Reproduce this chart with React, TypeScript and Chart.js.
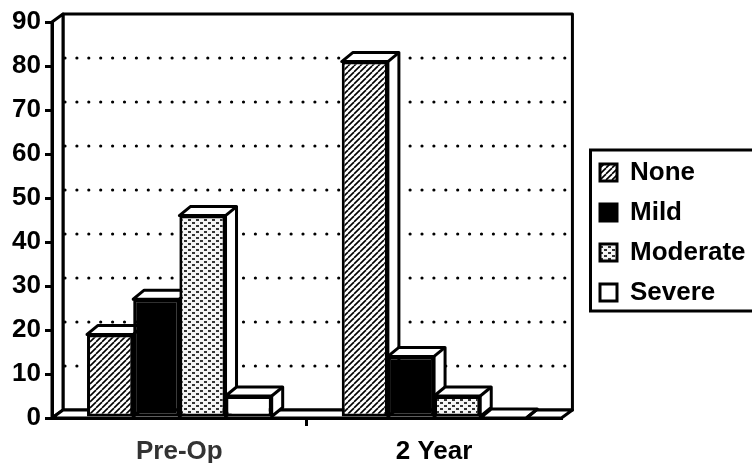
import React, { useEffect, useRef } from "react";
import { Chart, registerables } from "chart.js";

Chart.register(...registerables);

const categories = ["Pre-Op", "2 Year"];
const noneValues = [19, 81];
const mildValues = [27, 14];
const moderateValues = [46, 5];
const severeValues = [5, 0];
const FONT = '"Liberation Sans", Arial, sans-serif';

function hatch(): CanvasPattern {
  const c = document.createElement("canvas");
  c.width = 6;
  c.height = 6;
  const x = c.getContext("2d")!;
  x.fillStyle = "#fff";
  x.fillRect(0, 0, 6, 6);
  x.strokeStyle = "#000";
  x.lineWidth = 1.6;
  for (const o of [-6, 0, 6]) {
    x.beginPath();
    x.moveTo(o, 6);
    x.lineTo(o + 6, 0);
    x.stroke();
  }
  return x.createPattern(c, "repeat")!;
}

function dots(): CanvasPattern {
  const c = document.createElement("canvas");
  c.width = 8;
  c.height = 6;
  const x = c.getContext("2d")!;
  x.fillStyle = "#f4f4f4";
  x.fillRect(0, 0, 8, 6);
  x.fillStyle = "#333";
  x.fillRect(0, 0, 3, 2);
  x.fillRect(4, 3, 3, 2);
  return x.createPattern(c, "repeat")!;
}

const DX = 11;
const DY = 8;

const threeD = {
  id: "threeD",
  beforeDraw(chart: any) {
    const { ctx, chartArea: a, scales } = chart;
    ctx.save();
    ctx.strokeStyle = "#000";
    ctx.fillStyle = "#fff";
    ctx.lineWidth = 3;
    ctx.lineJoin = "round";
    const poly = (pts: number[][]) => {
      ctx.beginPath();
      pts.forEach((p, i) => (i ? ctx.lineTo(p[0], p[1]) : ctx.moveTo(p[0], p[1])));
      ctx.closePath();
      ctx.fill();
      ctx.stroke();
    };
    poly([
      [a.left + DX, a.top - DY],
      [a.right + DX, a.top - DY],
      [a.right + DX, a.bottom - DY],
      [a.left + DX, a.bottom - DY],
    ]);
    poly([
      [a.left, a.top],
      [a.left + DX, a.top - DY],
      [a.left + DX, a.bottom - DY],
      [a.left, a.bottom],
    ]);
    poly([
      [a.left, a.bottom],
      [a.left + DX, a.bottom - DY],
      [a.right + DX, a.bottom - DY],
      [a.right, a.bottom],
    ]);
    ctx.lineWidth = 3.2;
    ctx.lineCap = "round";
    ctx.setLineDash([0, 11.9]);
    scales.y.ticks.forEach((t: any) => {
      if (t.value === 0 || t.value === 90) return;
      const y = scales.y.getPixelForValue(t.value) - DY;
      ctx.beginPath();
      ctx.moveTo(a.left + DX + 2, y);
      ctx.lineTo(a.right + DX - 3, y);
      ctx.stroke();
    });
    ctx.restore();
  },
  beforeDatasetDraw() {
    return false;
  },
  afterDatasetsDraw(chart: any) {
    const { ctx } = chart;
    const dx = 11;
    const dy = 9;
    chart.data.datasets.forEach((_: any, i: number) => {
      chart.getDatasetMeta(i).data.forEach((bar: any) => {
        const p = bar.getProps(["x", "y", "base", "width"], true);
        const l = p.x - p.width / 2;
        const r = p.x + p.width / 2;
        ctx.save();
        ctx.strokeStyle = "#000";
        ctx.fillStyle = "#fff";
        ctx.lineWidth = 3;
        ctx.lineJoin = "round";
        ctx.beginPath();
        ctx.moveTo(l, p.y);
        ctx.lineTo(l + dx, p.y - dy);
        ctx.lineTo(r + dx, p.y - dy);
        ctx.lineTo(r + dx, p.base - dy);
        ctx.lineTo(r, p.base);
        ctx.lineTo(r, p.y);
        ctx.closePath();
        ctx.fill();
        ctx.stroke();
        ctx.beginPath();
        ctx.moveTo(r, p.y);
        ctx.lineTo(r + dx, p.y - dy);
        ctx.stroke();
        ctx.restore();
        bar.draw(ctx);
      });
    });
  },
  afterLayout(chart: any) {
    const lg = chart.legend;
    const w = lg.width;
    lg.left = 586;
    lg.right = 586 + w;
    lg.top -= 10;
    lg.bottom -= 10;
  },
  afterDraw(chart: any) {
    const { ctx } = chart;
    ctx.save();
    ctx.strokeStyle = "#000";
    ctx.lineWidth = 3;
    ctx.strokeRect(590.5, 150, 175, 161);
    ctx.restore();
  },
};

export default function App() {
  const ref = useRef<HTMLCanvasElement>(null);
  useEffect(() => {
    const style = { borderColor: "#000", borderWidth: 3, borderSkipped: false };
    const chart = new Chart(ref.current!, {
      type: "bar",
      data: {
        labels: categories,
        datasets: [
          { label: "None", data: noneValues, backgroundColor: hatch(), ...style },
          { label: "Mild", data: mildValues, backgroundColor: "#000", ...style },
          { label: "Moderate", data: moderateValues, backgroundColor: dots(), ...style },
          { label: "Severe", data: severeValues, backgroundColor: "#fff", ...style },
        ],
      } as any,
      options: {
        responsive: false,
        animation: false,
        events: [],
        layout: { padding: { top: 22, right: 21, left: 0, bottom: 0 } },
        datasets: { bar: { categoryPercentage: 0.725, barPercentage: 1 } },
        plugins: {
          tooltip: { enabled: false },
          legend: {
            position: "right",
            labels: {
              color: "#000",
              boxWidth: 17,
              boxHeight: 17,
              padding: 14,
              font: { family: FONT, size: 26, weight: "bold" },
            },
          },
        },
        scales: {
          x: {
            afterFit(s: any) {
              s.height = 45;
              s.paddingLeft = 0;
              s.paddingRight = 0;
            },
            border: { color: "#000", width: 3 },
            grid: {
              drawOnChartArea: false,
              tickLength: 8,
              lineWidth: 3,
              color: (c: any) => (c.index === 1 ? "#000" : "rgba(0,0,0,0)"),
            },
            ticks: {
              padding: 10,
              maxRotation: 0,
              color: (c: any) => (c.index === 0 ? "#333" : "#000"),
              font: { family: FONT, size: 26, weight: "bold" },
            },
          },
          y: {
            min: 0,
            max: 90,
            afterFit(s: any) {
              s.width = 52;
              s.paddingTop = 0;
              s.paddingBottom = 0;
            },
            border: { color: "#000", width: 3 },
            grid: { drawOnChartArea: false, tickLength: 7, lineWidth: 3, color: "#000" },
            ticks: {
              stepSize: 10,
              padding: 4,
              color: "#000",
              font: { family: FONT, size: 26, weight: "bold" },
            },
          },
        },
      },
      plugins: [threeD],
    } as any);
    return () => chart.destroy();
  }, []);
  return (
    <div style={{ position: "fixed", left: 0, top: 0, width: 752, height: 463, background: "#fff", overflow: "hidden" }}>
      <canvas ref={ref} width={752} height={463} style={{ display: "block" }} />
    </div>
  );
}
